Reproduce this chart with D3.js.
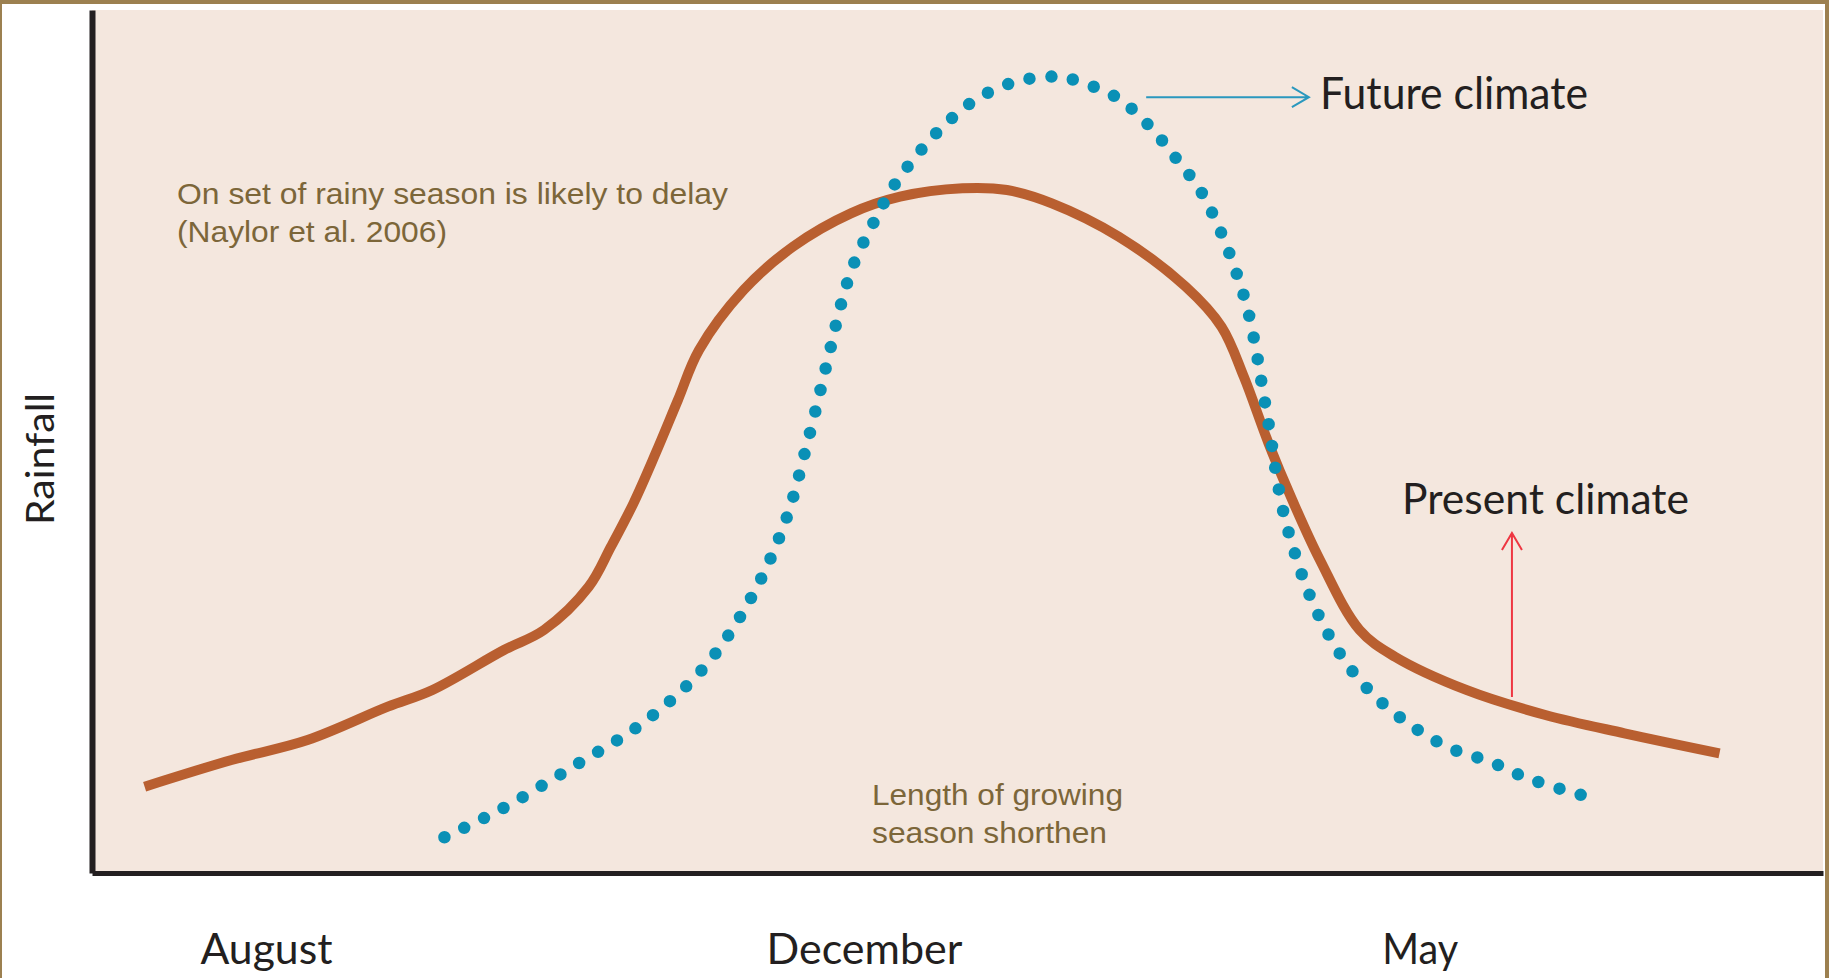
<!DOCTYPE html>
<html>
<head>
<meta charset="utf-8">
<script src="https://cdnjs.cloudflare.com/ajax/libs/d3/7.8.5/d3.min.js"></script>
<style>
  body { margin: 0; background: #fff; }
  svg { display: block; }
</style>
</head>
<body>
<svg id="chart" width="1829" height="978"></svg>
<script>
// x: position through the season (0-100 along the axis), y: relative rainfall (0-100)
const presentX = [3.04, 8.06, 12.45, 17.09, 19.67, 23.80, 26.11, 28.70, 29.98, 31.28, 32.56,
  33.85, 35.07, 37.65, 40.49, 43.84, 46.68, 50.29, 52.86, 55.45, 59.32, 63.18, 65.25,
  66.54, 67.97, 69.34, 70.94, 73.23, 75.27, 79.39, 83.96, 88.53, 94.02]
const presentY = [10.0, 13.09, 15.41, 19.27, 21.21, 25.84, 28.16, 33.18, 37.81, 42.84, 48.63,
  54.81, 60.60, 67.56, 72.57, 76.44, 78.37, 79.34, 79.14, 77.60, 73.73, 67.94, 63.30,
  57.51, 49.79, 43.22, 36.27, 28.16, 25.06, 21.21, 18.31, 16.19, 13.87]

const futureX = [20.36, 23.67, 27.79, 31.92, 35.40, 38.06, 40.05, 41.33, 42.47, 43.33, 44.02,
  45.13, 46.29, 47.66, 49.25, 51.18, 53.51, 55.84, 57.05, 59.27, 61.12, 62.62, 64.01,
  65.12, 66.02, 66.72, 67.23, 67.62, 68.03, 68.39, 68.82, 69.46, 70.26, 71.29, 72.54,
  74.14, 76.31, 78.48, 80.76, 82.94, 86.37]
const futureY = [4.14, 7.42, 12.32, 17.53, 23.91, 31.83, 40.71, 49.86, 59.18, 66.32, 70.65,
  75.28, 79.53, 83.20, 86.68, 89.77, 91.77, 92.27, 91.69, 89.77, 86.48, 82.82, 79.14,
  74.70, 70.07, 65.62, 60.80, 56.16, 51.33, 46.50, 41.87, 37.23, 32.60, 28.16, 24.10,
  20.43, 16.95, 14.45, 12.90, 10.97, 8.84]

const months = ["August", "December", "May"]
const monthPos = [10.05, 44.6, 76.7]

const svgroot = d3.select('#chart')
const W = 1829, H = 978
const plot = { left: 92, top: 10, right: 1823, bottom: 873 }

const xScale = d3.scaleLinear().domain([0, 100]).range([plot.left, plot.right])
const yScale = d3.scaleLinear().domain([0, 100]).range([plot.bottom, plot.top])

// Frame around the slide
svgroot.append('rect').attr('width', W).attr('height', H).attr('fill', '#fff')
svgroot.append('rect').attr('x', 0).attr('y', 0).attr('width', W).attr('height', 4).attr('fill', '#9C8050')
svgroot.append('rect').attr('x', 0).attr('y', 0).attr('width', 2).attr('height', H).attr('fill', '#9C8050')
svgroot.append('rect').attr('x', 1825).attr('y', 0).attr('width', 4).attr('height', H).attr('fill', '#9C8050')

// Plot background
svgroot.append('rect')
  .attr('x', plot.left).attr('y', plot.top)
  .attr('width', plot.right - plot.left).attr('height', plot.bottom - plot.top)
  .attr('fill', '#F4E7DE')

const line = d3.line()
  .x(d => xScale(d[0]))
  .y(d => yScale(d[1]))
  .curve(d3.curveCatmullRom.alpha(0.5))

// Present climate
svgroot.append('path')
  .datum(d3.zip(presentX, presentY))
  .attr('d', line)
  .attr('fill', 'none')
  .attr('stroke', '#B95F30')
  .attr('stroke-width', 10)

// Future climate (dotted)
svgroot.append('path')
  .datum(d3.zip(futureX, futureY))
  .attr('d', line)
  .attr('fill', 'none')
  .attr('stroke', '#0A90B6')
  .attr('stroke-width', 12.5)
  .attr('stroke-linecap', 'round')
  .attr('stroke-dasharray', '0 22')

// Axes
const xAxis = svgroot.append('g')
  .attr('transform', `translate(0,${plot.bottom})`)
  .call(d3.axisBottom(xScale).tickValues(monthPos).tickFormat((d, i) => months[i]).tickSize(0).tickSizeOuter(0))
xAxis.select('.domain').attr('stroke', '#231F20').attr('stroke-width', 5)
const labelWidths = [132, 196, 76]
xAxis.selectAll('.tick text')
  .attr('y', 91).attr('dy', 0)
  .attr('font-family', 'Lato, "Open Sans", sans-serif')
  .attr('font-size', 43)
  .attr('fill', '#231F20')
  .attr('textLength', (d, i) => labelWidths[i])
  .attr('lengthAdjust', 'spacingAndGlyphs')

const yAxis = svgroot.append('g')
  .attr('transform', `translate(${plot.left},0)`)
  .call(d3.axisLeft(yScale).tickValues([]).tickSizeOuter(0))
yAxis.select('.domain').attr('stroke', '#231F20').attr('stroke-width', 6)

svgroot.append('text')
  .attr('transform', 'translate(54,459) rotate(-90)')
  .attr('text-anchor', 'middle')
  .attr('font-family', 'Lato, "Open Sans", sans-serif')
  .attr('font-size', 39)
  .attr('fill', '#231F20')
  .attr('textLength', 132)
  .attr('lengthAdjust', 'spacingAndGlyphs')
  .text('Rainfall')

// Series labels and arrows
const darkText = (txt, x, y, size, len) => svgroot.append('text')
  .attr('x', x).attr('y', y)
  .attr('font-family', 'Lato, "Open Sans", sans-serif')
  .attr('font-size', size)
  .attr('fill', '#231F20')
  .attr('textLength', len)
  .attr('lengthAdjust', 'spacingAndGlyphs')
  .text(txt)

darkText('Future climate', 1320, 109, 45, 268)
darkText('Present climate', 1402, 514, 43, 287)

// future arrow, pointing right
const fy = yScale(89.9), fx0 = xScale(60.9), fx1 = xScale(70.3)
svgroot.append('path')
  .attr('d', `M${fx0},${fy}H${fx1}M${fx1 - 17},${fy - 10}L${fx1},${fy}L${fx1 - 17},${fy + 10}`)
  .attr('fill', 'none').attr('stroke', '#2A98BE').attr('stroke-width', 2)

// present arrow, pointing up
const px = xScale(82.03), py0 = yScale(20.4), py1 = yScale(39.4)
svgroot.append('path')
  .attr('d', `M${px},${py0}V${py1}M${px - 10},${py1 + 17}L${px},${py1}L${px + 10},${py1 + 17}`)
  .attr('fill', 'none').attr('stroke', '#EE3742').attr('stroke-width', 2)

// Notes
const note = (lines, x, y0, widths) => {
  lines.forEach((t, i) => {
    svgroot.append('text')
      .attr('x', x).attr('y', y0 + i * 38)
      .attr('font-family', '"Liberation Sans", Arial, sans-serif')
      .attr('font-size', 30)
      .attr('fill', '#7C6639')
      .attr('textLength', widths[i])
      .attr('lengthAdjust', 'spacingAndGlyphs')
      .text(t)
  })
}
note(['On set of rainy season is likely to delay', '(Naylor et al. 2006)'], 177, 204, [551, 270])
note(['Length of growing', 'season shorthen'], 872, 805, [251, 235])
</script>
</body>
</html>
